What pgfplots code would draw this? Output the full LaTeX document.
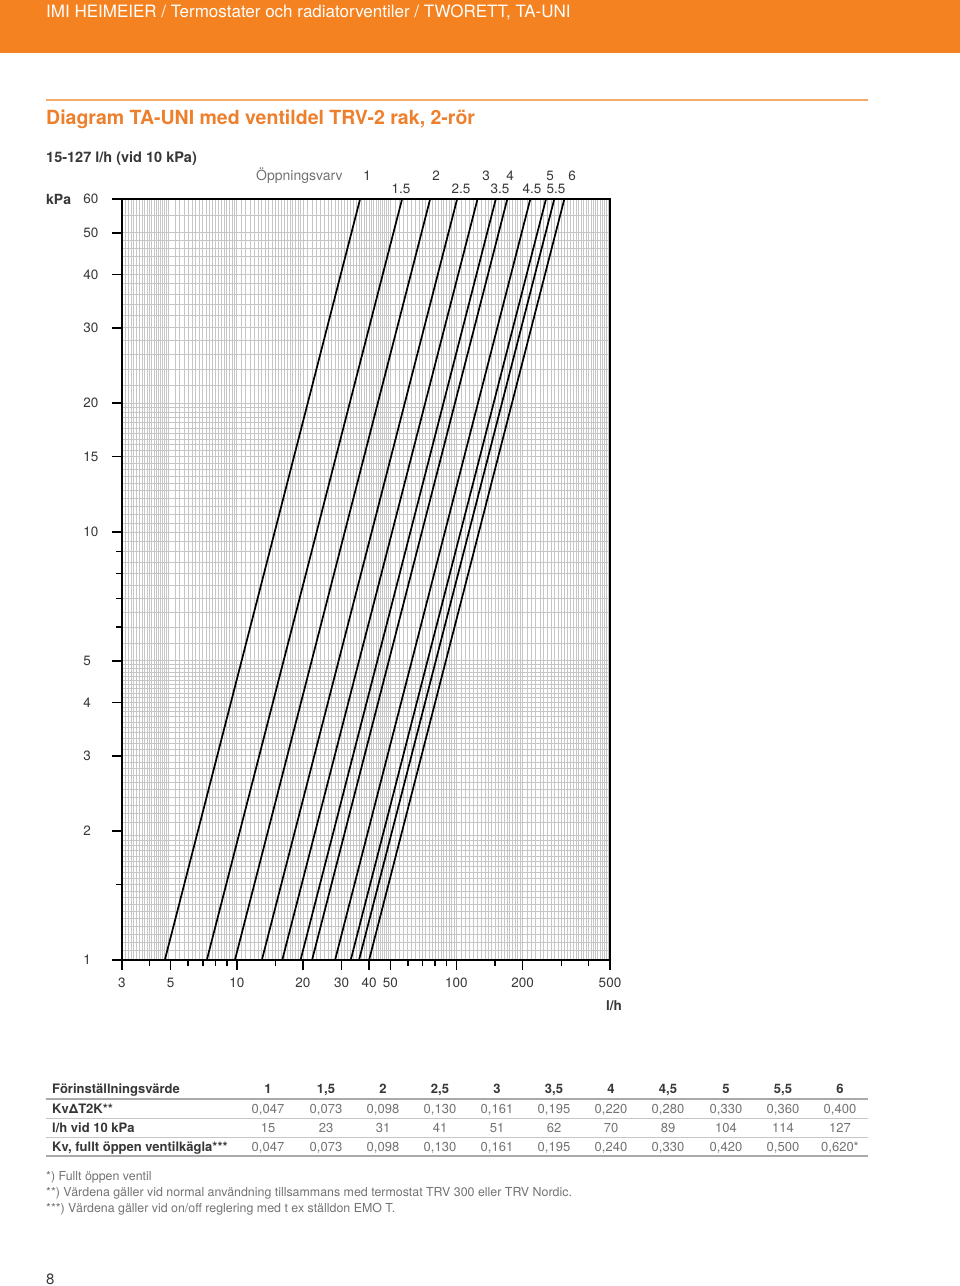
\documentclass[border=0pt]{standalone}
\usepackage{fontspec}
\setmainfont{TeX Gyre Heros}
\usepackage{pgfplots}
\pgfplotsset{compat=1.18}
\definecolor{imiorange}{RGB}{245,130,32}
\definecolor{titleorange}{RGB}{238,128,45}
\definecolor{lineorange}{RGB}{243,172,105}
\definecolor{txt}{RGB}{55,55,55}
\definecolor{light}{RGB}{115,115,115}
\definecolor{gridc}{RGB}{198,198,198}
\definecolor{rule}{RGB}{170,170,170}
\newcommand\fs[1]{\fontsize{#1}{#1}\selectfont}
\begin{document}
\begin{tikzpicture}
\path[use as bounding box, fill=white] (0pt,0pt) rectangle (960pt,-1286pt);
\fill[imiorange] (0pt,0pt) rectangle (960pt,-53pt);
\node[anchor=base west, inner sep=0pt, text=white] at (46pt,-17.5pt) {\fs{17}IMI HEIMEIER / Termostater och radiatorventiler / TWORETT, TA-UNI};
\draw[lineorange, line width=2pt] (46pt,-100pt) -- (868pt,-100pt);
\node[anchor=base west, inner sep=0pt, text=titleorange] at (46pt,-124pt) {\fs{19.5}\bfseries Diagram TA-UNI med ventildel TRV-2 rak, 2-rör};
\node[anchor=base west, inner sep=0pt, text=txt] at (46pt,-162pt) {\fs{14.5}\bfseries 15-127 l/h (vid 10 kPa)};
\node[anchor=base west, inner sep=0pt, text=txt] at (46pt,-204pt) {\fs{14}\bfseries kPa};
\node[anchor=base west, inner sep=0pt, text=light] at (256pt,-180pt) {\fs{14}Öppningsvarv};
\foreach \x/\t in {367/1,436/2,486/3,510/4,550/5,572/6}
  \node[anchor=base, inner sep=0pt, text=txt] at (\x pt,-180pt) {\fs{13.5}\t};
\foreach \x/\t in {401/1.5,461/2.5,500/3.5,532/4.5,556/5.5}
  \node[anchor=base, inner sep=0pt, text=txt] at (\x pt,-193pt) {\fs{13.5}\t};

\begin{axis}[
  at={(122pt,-960pt)}, anchor=south west,
  scale only axis, width=488pt, height=761pt,
  xmode=log, ymode=log,
  xmin=3, xmax=500, ymin=1, ymax=60,
  axis line style={black, line width=1.8pt},
  tick align=outside, xtick pos=left, ytick pos=left,
  major tick length=10pt,
  every tick/.style={black, line width=1.5pt},
  xtick={3,5,10,20,30,40,50,100,200,500},
  xticklabels={3,5,10,20,30,40,50,100,200,500},
  extra x ticks={4,6,7,8,9,15,60,70,80,90,150,300,400},
  extra x tick labels={},
  extra x tick style={major tick length=6pt, grid=none},
  ytick={1,2,3,4,5,10,15,20,30,40,50,60},
  yticklabels={1,2,3,4,5,10,15,20,30,40,50,60},
  extra y ticks={1.5,6,7,8,9},
  extra y tick labels={},
  extra y tick style={major tick length=6pt, grid=none},
  /pgf/number format/assume math mode=true,
  xticklabel style={font=\fs{13.5}, text=txt, inner sep=0pt, anchor=north, yshift=-8pt},
  yticklabel style={font=\fs{13.5}, text=txt, inner sep=0pt, anchor=west, xshift=-29pt},
  minor xtick={3,3.1,...,5,5.25,5.5,...,10,10.5,11,...,20,21,22,...,50,52.5,55,...,100,105,110,...,200,210,220,...,500},
  minor ytick={1,1.05,...,2,2.1,2.2,...,5,5.5,6,...,10,10.5,11,...,20,22,24,...,50,55,60},
  minor tick length=0pt,
  xminorgrids=true, yminorgrids=true,
  xmajorgrids=false, ymajorgrids=false,
  minor grid style={gridc, line width=0.9pt},
  clip=true,
]
\addplot[black, line width=1.7pt] coordinates {(4.7,1) (36.41,60)};
\addplot[black, line width=1.7pt] coordinates {(7.3,1) (56.55,60)};
\addplot[black, line width=1.7pt] coordinates {(9.8,1) (75.91,60)};
\addplot[black, line width=1.7pt] coordinates {(13.0,1) (100.70,60)};
\addplot[black, line width=1.7pt] coordinates {(16.1,1) (124.71,60)};
\addplot[black, line width=1.7pt] coordinates {(19.5,1) (151.05,60)};
\addplot[black, line width=1.7pt] coordinates {(22.0,1) (170.41,60)};
\addplot[black, line width=1.7pt] coordinates {(28.0,1) (216.89,60)};
\addplot[black, line width=1.7pt] coordinates {(33.0,1) (255.62,60)};
\addplot[black, line width=1.7pt] coordinates {(36.0,1) (278.86,60)};
\addplot[black, line width=1.7pt] coordinates {(40.0,1) (309.84,60)};
\end{axis}

\node[anchor=base, inner sep=0pt, text=txt] at (614pt,-1010pt) {\fs{13.5}\bfseries l/h};

% table
\node[anchor=base west, inner sep=0pt, text=txt] at (52pt,-1093pt) {\fs{13}\bfseries Förinställningsvärde};
\node[anchor=base west, inner sep=0pt, text=txt] at (52pt,-1113pt) {\fs{13}\bfseries KvΔT2K**};
\node[anchor=base west, inner sep=0pt, text=txt] at (52pt,-1132pt) {\fs{13}\bfseries l/h vid 10 kPa};
\node[anchor=base west, inner sep=0pt, text=txt] at (52pt,-1151pt) {\fs{13}\bfseries Kv, fullt öppen ventilkägla***};
\foreach \x/\h/\k/\q/\v in {268/1/{0,047}/15/{0,047}, 326/{1,5}/{0,073}/23/{0,073}, 383/2/{0,098}/31/{0,098}, 440/{2,5}/{0,130}/41/{0,130}, 497/3/{0,161}/51/{0,161}, 554/{3,5}/{0,195}/62/{0,195}, 611/4/{0,220}/70/{0,240}, 668/{4,5}/{0,280}/89/{0,330}, 726/5/{0,330}/104/{0,420}, 783/{5,5}/{0,360}/114/{0,500}, 840/6/{0,400}/127/{0,620*}} {
  \node[anchor=base, inner sep=0pt, text=txt] at (\x pt,-1093pt) {\fs{13}\bfseries \h};
  \node[anchor=base, inner sep=0pt, text=light] at (\x pt,-1113pt) {\fs{13}\k};
  \node[anchor=base, inner sep=0pt, text=light] at (\x pt,-1132pt) {\fs{13}\q};
  \node[anchor=base, inner sep=0pt, text=light] at (\x pt,-1151pt) {\fs{13}\v};
}
\draw[rule, line width=1.6pt] (46pt,-1099pt) -- (868pt,-1099pt);
\draw[gridc, line width=0.9pt] (46pt,-1118pt) -- (868pt,-1118pt);
\draw[gridc, line width=0.9pt] (46pt,-1137pt) -- (868pt,-1137pt);
\draw[rule, line width=1.6pt] (46pt,-1156pt) -- (868pt,-1156pt);

% footnotes
\node[anchor=base west, inner sep=0pt, text=light] at (46pt,-1180pt) {\fs{12.4}*) Fullt öppen ventil};
\node[anchor=base west, inner sep=0pt, text=light] at (46pt,-1196pt) {\fs{12.4}**) Värdena gäller vid normal användning tillsammans med termostat TRV 300 eller TRV Nordic.};
\node[anchor=base west, inner sep=0pt, text=light] at (46pt,-1212pt) {\fs{12.4}***) Värdena gäller vid on/off reglering med t ex ställdon EMO T.};
\node[anchor=base west, inner sep=0pt, text=txt] at (46pt,-1284pt) {\fs{15}8};
\end{tikzpicture}
\end{document}
